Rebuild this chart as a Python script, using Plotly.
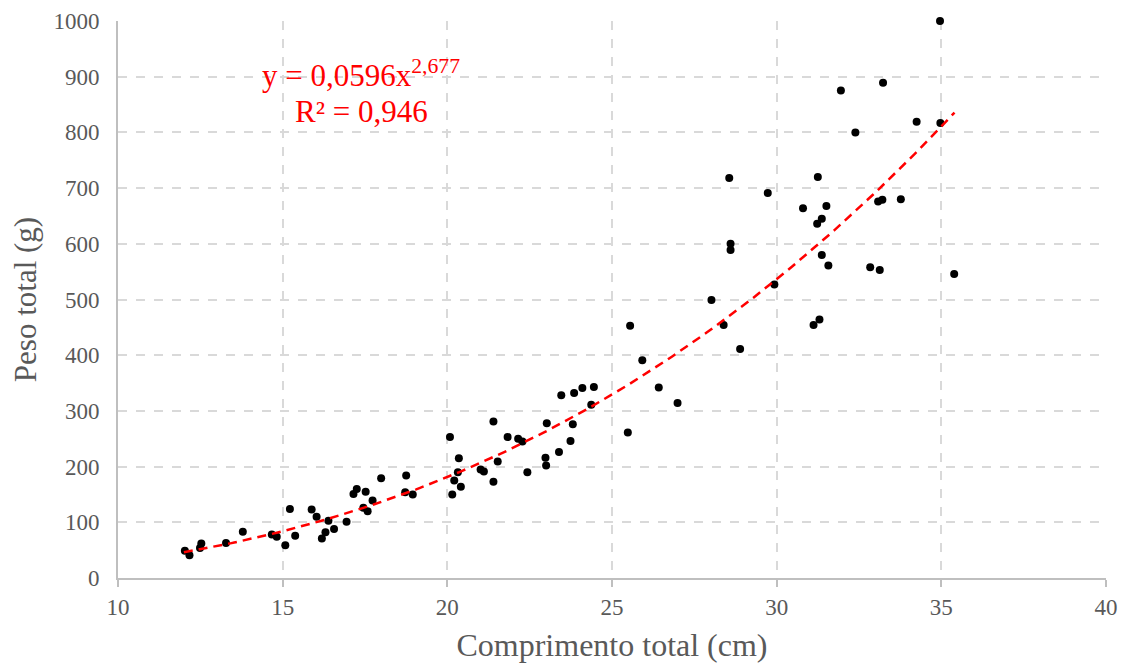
import numpy as np
import plotly.graph_objects as go

# Comprimento total (cm)
comprimento = [12.03, 12.17, 12.49, 12.53, 13.28, 13.79, 14.67, 14.82, 15.08, 15.22,
               15.38, 15.88, 16.03, 16.19, 16.30, 16.39, 16.56, 16.94, 17.15, 17.25,
               17.52, 17.45, 17.58, 17.73, 17.99, 18.75, 18.72, 18.95, 20.08, 20.35,
               20.32, 20.21, 20.15, 20.41, 21.01, 21.11, 21.40, 21.53, 21.40, 21.83,
               22.15, 22.28, 22.43, 22.98, 23.00, 23.02, 23.39, 23.74, 23.81, 23.46,
               23.85, 24.10, 24.45, 24.37, 25.48, 25.55, 25.92, 26.42, 26.99, 28.02,
               28.39, 28.89, 28.56, 28.60, 28.60, 29.73, 29.93, 31.12, 31.30, 34.96,
               31.95, 33.23, 32.39, 34.25, 34.97, 31.25, 30.80, 31.51, 31.37, 31.23,
               33.08, 33.21, 33.77, 31.37, 31.57, 32.84, 33.13, 35.39]
# Peso total (g)
peso = [49, 41, 54, 62, 63, 83, 78, 74, 59, 124,
        76, 123, 110, 71, 82, 103, 88, 101, 151, 160,
        155, 126, 120, 139, 179, 184, 154, 150, 253, 215,
        190, 175, 150, 164, 195, 191, 173, 209, 281, 253,
        250, 245, 190, 216, 202, 278, 226, 246, 276, 328,
        332, 341, 343, 311, 261, 453, 391, 342, 314, 499,
        454, 411, 718, 600, 589, 691, 527, 454, 464, 1000,
        875, 889, 800, 819, 817, 720, 664, 668, 645, 636,
        676, 679, 680, 580, 561, 558, 553, 546]

# Power trendline coefficients as printed on the chart
coef_a = 0.0596
coef_b = 2.677
trend_x_range = [12.0, 35.4]
eq_line1 = "y = 0,0596x<sup>2,677</sup>"
eq_line2 = "R² = 0,946"
x_title = "Comprimento total (cm)"
y_title = "Peso total (g)"

x_ticks = [10, 15, 20, 25, 30, 35, 40]
y_ticks = [0, 100, 200, 300, 400, 500, 600, 700, 800, 900, 1000]

tx = np.linspace(trend_x_range[0], trend_x_range[1], 200)
ty = coef_a * tx ** coef_b

FONT = "Liberation Serif, Times New Roman, serif"
GRID = "#d9d9d9"
AXIS = "#bfbfbf"
TXT = "#595959"

fig = go.Figure()
fig.add_trace(go.Scatter(x=comprimento, y=peso, mode="markers",
                         marker=dict(color="black", size=8), cliponaxis=False,
                         showlegend=False, hoverinfo="x+y"))
fig.add_trace(go.Scatter(x=tx, y=ty, mode="lines",
                         line=dict(color="#ff0000", width=2.5, dash="9px,6px"),
                         showlegend=False, hoverinfo="skip"))

fig.add_annotation(x=17.38, y=906, xref="x", yref="y", text=eq_line1,
                   showarrow=False, xanchor="center", yanchor="middle",
                   font=dict(family=FONT, size=31, color="#ff0000"))
fig.add_annotation(x=17.38, y=838, xref="x", yref="y", text=eq_line2,
                   showarrow=False, xanchor="center", yanchor="middle",
                   font=dict(family=FONT, size=31, color="#ff0000"))

# page body has an 8px default margin, so the figure is sized/offset to compensate
fig.update_layout(
    width=1119, height=658,
    margin=dict(l=110, r=21, t=13, b=88),
    paper_bgcolor="white", plot_bgcolor="white",
    font=dict(family=FONT, color=TXT),
)
fig.update_xaxes(range=[10, 40], tickvals=x_ticks, showgrid=True, gridcolor=GRID,
                 griddash="dash", gridwidth=1.5, zeroline=False, showline=True,
                 linecolor=AXIS, linewidth=2, ticks="outside", ticklen=7,
                 tickcolor=AXIS, tickwidth=1.5, automargin=False,
                 tickfont=dict(family=FONT, size=23, color=TXT),
                 title=dict(text=x_title, standoff=15,
                            font=dict(family=FONT, size=32, color=TXT)))
fig.update_yaxes(range=[0, 1000], tickvals=y_ticks, showgrid=True, gridcolor=GRID,
                 griddash="dash", gridwidth=1.5, zeroline=False, showline=True,
                 linecolor=AXIS, linewidth=2, ticks="", ticklabelstandoff=12,
                 automargin=False,
                 tickfont=dict(family=FONT, size=23, color=TXT),
                 title=dict(text=y_title, standoff=12,
                            font=dict(family=FONT, size=31, color=TXT)))

fig.write_html("out.html")
